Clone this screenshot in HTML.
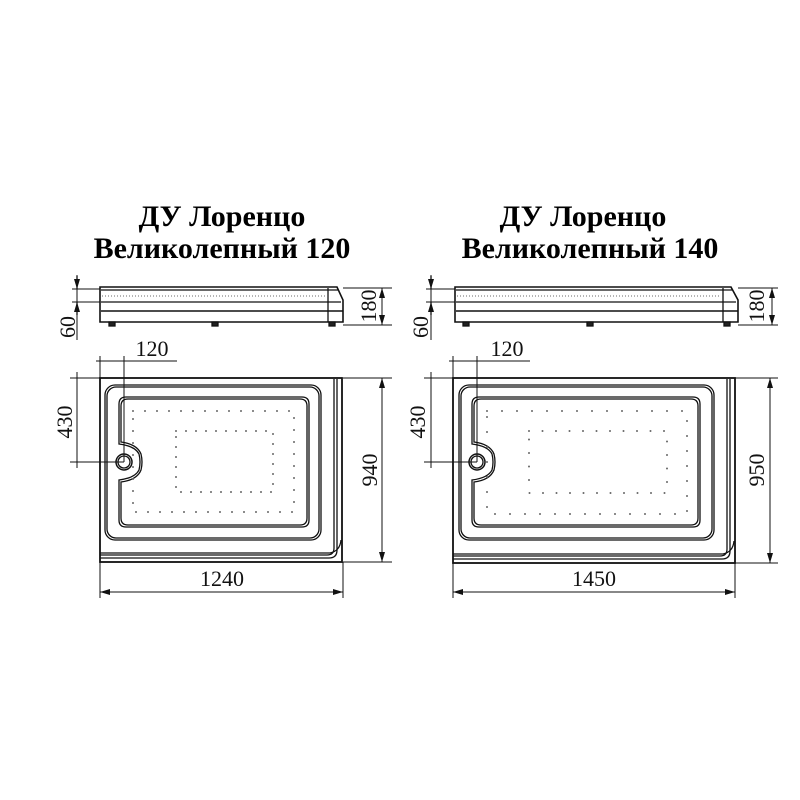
<!DOCTYPE html>
<html><head><meta charset="utf-8"><style>
html,body{margin:0;padding:0;background:#fff;width:800px;height:800px;overflow:hidden}
svg text{font-family:"Liberation Serif",serif}
</style></head><body>
<svg width="800" height="800" viewBox="0 0 800 800" xmlns="http://www.w3.org/2000/svg">
<defs>
<marker id="a" markerWidth="10" markerHeight="6" refX="10" refY="3" orient="auto-start-reverse" markerUnits="userSpaceOnUse"><path d="M0,0 L10,3 L0,6 Z" fill="#111"/></marker>
</defs>
<rect width="800" height="800" fill="#fff"/>
<g font-weight="bold" font-size="30" text-anchor="middle" fill="#000">
<text x="222" y="226">ДУ Лоренцо</text>
<text x="222" y="258">Великолепный 120</text>
<text x="583" y="226">ДУ Лоренцо</text>
<text x="590" y="258">Великолепный 140</text>
</g>

<!-- LEFT -->
<g fill="none" stroke="#111" stroke-width="1.3">
<path d="M100,287 H337 L343,300 V322 H100 Z" stroke-width="1.6"/>
<line x1="101" y1="290" x2="338" y2="290"/>
<line x1="101" y1="302" x2="341" y2="302"/>
<line x1="101" y1="311" x2="343" y2="311" stroke-width="1.5"/>
<line x1="328" y1="288" x2="328" y2="322"/>
<line x1="102" y1="296" x2="326" y2="296" stroke-dasharray="1 2" stroke="#888"/>
<rect x="109" y="322" width="6" height="4" fill="#222"/>
<rect x="212" y="322" width="6" height="4" fill="#222"/>
<rect x="329" y="322" width="6" height="4" fill="#222"/>
<line x1="77" y1="275" x2="77" y2="340" stroke-width="1"/>
<line x1="72" y1="289" x2="100" y2="289" stroke-width="1"/>
<line x1="72" y1="302" x2="100" y2="302" stroke-width="1"/>
<line x1="77" y1="276" x2="77" y2="289" marker-end="url(#a)"/>
<line x1="77" y1="315" x2="77" y2="302" marker-end="url(#a)"/>
<line x1="343" y1="288" x2="392" y2="288" stroke-width="1"/>
<line x1="343" y1="325" x2="392" y2="325" stroke-width="1"/>
<line x1="382" y1="288" x2="382" y2="325" marker-start="url(#a)" marker-end="url(#a)" stroke-width="1"/>
<rect x="100" y="378" width="242" height="184" stroke-width="1.8"/>
<path d="M334,379 V548 Q334,555 327,555 H100"/>
<path d="M337,379 V550 Q337,558 329,558 H100"/>
<path d="M100,553 H330 Q340,551 341,540"/>
<rect x="105" y="385" width="216" height="155" rx="10"/>
<rect x="107" y="387" width="212" height="151" rx="9"/>
<path d="M126,397 H302 Q309,397 309,404 V520 Q309,527 302,527 H126 Q119,527 119,520 V480 Q135,478 139,470 Q141,462 139,454 Q135,446 119,444 V404 Q119,397 126,397 Z"/>
<path d="M128,399 H300 Q307,399 307,406 V518 Q307,525 300,525 H128 Q121,525 121,518 V482 Q137,480 141,470 Q143,462 141,454 Q137,444 121,442 V406 Q121,399 128,399 Z"/>
<circle cx="124" cy="462" r="8" stroke-width="1.5"/>
<circle cx="124" cy="462" r="6"/>
<rect x="133" y="411" width="161" height="101" stroke="#666" stroke-width="2" stroke-linecap="round" stroke-dasharray="0 12"/>
<rect x="176" y="431" width="97" height="61" stroke="#666" stroke-width="2" stroke-linecap="round" stroke-dasharray="0 10"/>
<g stroke-width="1">
<line x1="100" y1="356" x2="100" y2="378"/>
<line x1="124" y1="356" x2="124" y2="462"/>
<line x1="96" y1="361" x2="177" y2="361"/>
<line x1="70" y1="378" x2="100" y2="378"/>
<line x1="70" y1="462" x2="124" y2="462"/>
<line x1="77" y1="372" x2="77" y2="468"/>
<line x1="343" y1="378" x2="392" y2="378"/>
<line x1="343" y1="562" x2="392" y2="562"/>
<line x1="382" y1="378" x2="382" y2="562" marker-start="url(#a)" marker-end="url(#a)"/>
<line x1="100" y1="562" x2="100" y2="598"/>
<line x1="343" y1="562" x2="343" y2="598"/>
<line x1="100" y1="592" x2="343" y2="592" marker-start="url(#a)" marker-end="url(#a)"/>
</g>
</g>

<!-- RIGHT -->
<g fill="none" stroke="#111" stroke-width="1.3">
<path d="M455,287 H731 L738,300 V322 H455 Z" stroke-width="1.6"/>
<line x1="456" y1="290" x2="732" y2="290"/>
<line x1="456" y1="302" x2="736" y2="302"/>
<line x1="456" y1="311" x2="738" y2="311" stroke-width="1.5"/>
<line x1="723" y1="288" x2="723" y2="322"/>
<line x1="457" y1="296" x2="720" y2="296" stroke-dasharray="1 2" stroke="#888"/>
<rect x="463" y="322" width="6" height="4" fill="#222"/>
<rect x="587" y="322" width="6" height="4" fill="#222"/>
<rect x="724" y="322" width="6" height="4" fill="#222"/>
<line x1="431" y1="275" x2="431" y2="340" stroke-width="1"/>
<line x1="426" y1="289" x2="455" y2="289" stroke-width="1"/>
<line x1="426" y1="302" x2="455" y2="302" stroke-width="1"/>
<line x1="431" y1="276" x2="431" y2="289" marker-end="url(#a)"/>
<line x1="431" y1="315" x2="431" y2="302" marker-end="url(#a)"/>
<line x1="738" y1="288" x2="778" y2="288" stroke-width="1"/>
<line x1="738" y1="325" x2="778" y2="325" stroke-width="1"/>
<line x1="772" y1="288" x2="772" y2="325" marker-start="url(#a)" marker-end="url(#a)" stroke-width="1"/>
<rect x="453" y="378" width="282" height="185" stroke-width="1.8"/>
<path d="M727,379 V549 Q727,556 720,556 H453"/>
<path d="M730,379 V551 Q730,559 722,559 H453"/>
<path d="M453,554 H723 Q733,552 734,541"/>
<rect x="459" y="385" width="255" height="155" rx="10"/>
<rect x="461" y="387" width="251" height="151" rx="9"/>
<path d="M479,397 H693 Q700,397 700,404 V520 Q700,527 693,527 H479 Q472,527 472,520 V480 Q488,478 492,470 Q494,462 492,454 Q488,446 472,444 V404 Q472,397 479,397 Z"/>
<path d="M481,399 H691 Q698,399 698,406 V518 Q698,525 691,525 H481 Q474,525 474,518 V482 Q490,480 494,470 Q496,462 494,454 Q490,444 474,442 V406 Q474,399 481,399 Z"/>
<circle cx="477" cy="462" r="8" stroke-width="1.5"/>
<circle cx="477" cy="462" r="6"/>
<rect x="487" y="411" width="200" height="103" stroke="#666" stroke-width="2" stroke-linecap="round" stroke-dasharray="0 15"/>
<rect x="529" y="431" width="138" height="62" stroke="#666" stroke-width="2" stroke-linecap="round" stroke-dasharray="0 13.5"/>
<g stroke-width="1">
<line x1="453" y1="356" x2="453" y2="378"/>
<line x1="477" y1="356" x2="477" y2="462"/>
<line x1="449" y1="361" x2="530" y2="361"/>
<line x1="424" y1="378" x2="453" y2="378"/>
<line x1="424" y1="462" x2="477" y2="462"/>
<line x1="431" y1="372" x2="431" y2="468"/>
<line x1="735" y1="378" x2="778" y2="378"/>
<line x1="735" y1="563" x2="778" y2="563"/>
<line x1="770" y1="378" x2="770" y2="563" marker-start="url(#a)" marker-end="url(#a)"/>
<line x1="453" y1="563" x2="453" y2="598"/>
<line x1="735" y1="563" x2="735" y2="598"/>
<line x1="453" y1="592" x2="735" y2="592" marker-start="url(#a)" marker-end="url(#a)"/>
</g>
</g>

<g font-size="22" fill="#111" text-anchor="middle">
<text x="152" y="356">120</text>
<text x="507" y="356">120</text>
<text x="222" y="586">1240</text>
<text x="594" y="586">1450</text>
<text transform="translate(75,327) rotate(-90)">60</text>
<text transform="translate(428,327) rotate(-90)">60</text>
<text transform="translate(376,306) rotate(-90)">180</text>
<text transform="translate(764,306) rotate(-90)">180</text>
<text transform="translate(72,422) rotate(-90)">430</text>
<text transform="translate(425,422) rotate(-90)">430</text>
<text transform="translate(377,470) rotate(-90)">940</text>
<text transform="translate(764,470) rotate(-90)">950</text>
</g>
</svg>
</body></html>
